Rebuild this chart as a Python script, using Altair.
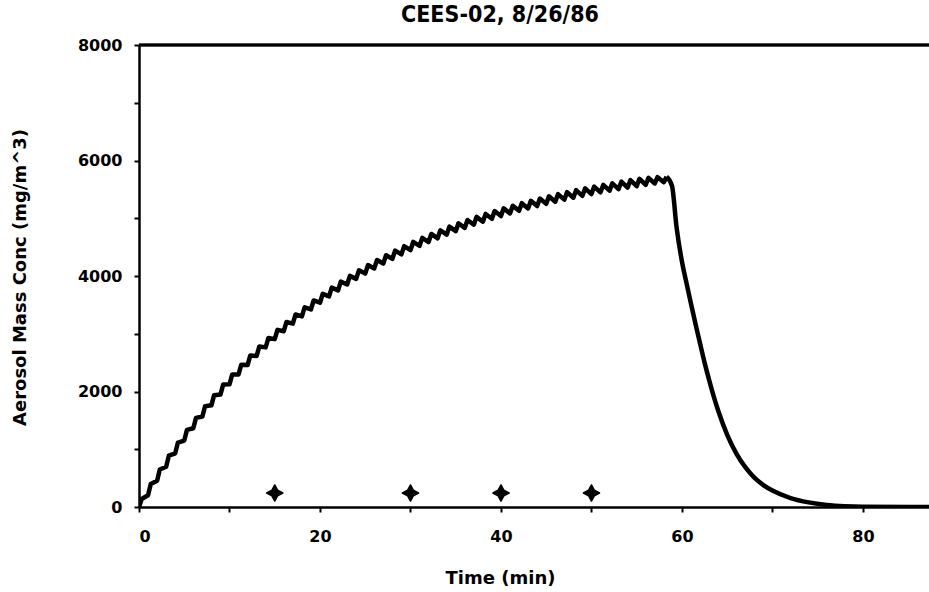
import altair as alt
import pandas as pd

# ---- data ----
# start of each 1-minute injection cycle (trough just before the jump)
trough_t = list(range(0, 59))
trough_v = [0, 204, 456, 698, 930, 1151, 1363, 1566, 1761, 1947,
            2125, 2295, 2458, 2615, 2764, 2907, 3044, 3176, 3301, 3421,
            3537, 3647, 3752, 3853, 3950, 4042, 4131, 4216, 4297, 4374,
            4449, 4520, 4588, 4653, 4716, 4776, 4833, 4888, 4940, 4990,
            5038, 5084, 5128, 5170, 5211, 5249, 5286, 5322, 5356, 5388,
            5419, 5449, 5477, 5505, 5531, 5556, 5580, 5602, 5624]
# peak of each cycle, shortly after the jump
peak_t = [t + 0.3 for t in trough_t]
peak_v = [139, 400, 649, 888, 1116, 1335, 1544, 1745, 1937, 2120,
          2296, 2464, 2625, 2780, 2927, 3068, 3204, 3334, 3457, 3576,
          3690, 3799, 3902, 4002, 4098, 4189, 4277, 4360, 4440, 4517,
          4590, 4660, 4728, 4792, 4854, 4913, 4970, 5024, 5075, 5124,
          5172, 5217, 5261, 5302, 5342, 5380, 5417, 5452, 5486, 5517,
          5548, 5577, 5605, 5633, 5659, 5683, 5700, 5712, 5720]
# decay after the source is switched off
decay_t = [58.3, 58.9, 59.4, 60.0, 60.5, 61.0, 61.5, 62.0, 62.5, 63.0,
           63.5, 64.0, 65.0, 66.0, 67.0, 68.0, 69.0, 70.0, 72.0, 74.0,
           76.0, 78.0, 80.0, 87.3]
decay_v = [5720, 5560, 4850, 4250, 3880, 3520, 3170, 2830, 2500, 2200,
           1920, 1670, 1250, 930, 690, 510, 380, 285, 155, 80,
           35, 12, 3, 0]

marker_t = [15, 30, 40, 50]
marker_v = [242, 242, 242, 242]

x_ticks = [0, 10, 20, 30, 40, 50, 60, 70, 80]
y_ticks = [0, 1000, 2000, 3000, 4000, 5000, 6000, 7000, 8000]

# ---- build tables ----
rows = []
for t, v, pt, pv in zip(trough_t, trough_v, peak_t, peak_v):
    rows.append((t, v))
    rows.append((pt, pv))
saw = pd.DataFrame(rows, columns=["t", "c"])
saw["order"] = range(len(saw))

decay = pd.DataFrame({"t": decay_t, "c": decay_v})
marks = pd.DataFrame({"t": marker_t, "c": marker_v})

FONT = "DejaVu Sans"

xscale = alt.Scale(domain=[0, 87.3], nice=False, zero=False)
yscale = alt.Scale(domain=[0, 8000], nice=False)

xaxis = alt.Axis(
    values=x_ticks, title="Time (min)",
    labelExpr="datum.value % 20 == 0 ? datum.label : ''",
    labelPadding=16, titleX=361, titleY=71, titleBaseline="middle",
    titleFontSize=18, titleFont=FONT, titleFontWeight="bold",
)
yaxis = alt.Axis(
    values=y_ticks, title="Aerosol Mass Conc (mg/m^3)", format="d",
    labelExpr="datum.value % 2000 == 0 ? datum.label : ''",
    labelPadding=12, titleX=-119, titleY=232, titleAngle=-90,
    titleBaseline="middle", titleAlign="center",
    titleFontSize=18, titleFont=FONT, titleFontWeight="bold",
)

line = alt.Chart(saw).mark_line(
    color="black", strokeWidth=4.5, strokeJoin="round", clip=True
).encode(
    x=alt.X("t:Q", scale=xscale, axis=xaxis),
    y=alt.Y("c:Q", scale=yscale, axis=yaxis),
    order="order:Q",
)

tail = alt.Chart(decay).mark_line(
    color="black", strokeWidth=4.5, strokeJoin="round", clip=True,
    interpolate="monotone",
).encode(
    x=alt.X("t:Q", scale=xscale),
    y=alt.Y("c:Q", scale=yscale),
)

star = "M0,-1L0.35,-0.35L1,0L0.35,0.35L0,1L-0.35,0.35L-1,0L-0.35,-0.35Z"
pts = alt.Chart(marks).mark_point(
    shape=star, filled=True, color="black", size=260, opacity=1,
    strokeWidth=1.5, stroke="black", strokeJoin="round",
).encode(
    x=alt.X("t:Q", scale=xscale),
    y=alt.Y("c:Q", scale=yscale),
)

top = alt.Chart(marks).mark_rule(color="black", strokeWidth=2.5).encode(
    y=alt.datum(8000, scale=yscale)
)

chart = alt.layer(line, tail, pts, top).properties(
    width=790, height=462,
    title=alt.TitleParams(
        "CEES-02, 8/26/86", font="Liberation Sans Narrow, DejaVu Sans Condensed, sans-serif",
        fontSize=23, fontWeight="bold", color="black", anchor="middle", dx=-34, offset=10,
    ),
    autosize=alt.AutoSizeParams(type="none"),
    padding={"left": 139, "top": 45, "right": 0, "bottom": 85},
).configure_view(stroke=None).configure_axis(
    grid=False, domainColor="black", domainWidth=2.5, tickColor="black",
    tickWidth=2, tickSize=5, labelColor="black", titleColor="black",
    labelFont=FONT, labelFontWeight="bold", labelFontSize=16,
)

chart.save("out.html", embed_options={"renderer": "svg", "actions": False})
